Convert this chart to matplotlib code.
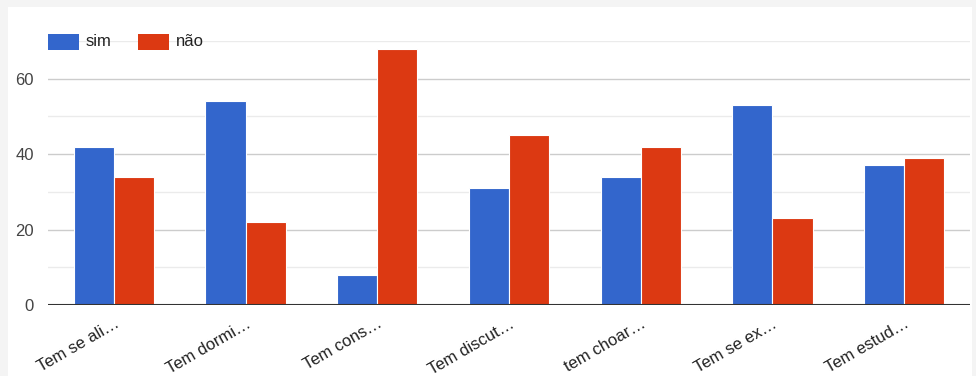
import matplotlib
matplotlib.use("Agg")
from matplotlib import pyplot as plt
from matplotlib.patches import Rectangle
import numpy as np

plt.rcParams["font.family"] = ["Liberation Sans", "DejaVu Sans"]

# answers per question
labels = ["Tem se ali…", "Tem dormi…", "Tem cons…", "Tem discut…",
          "tem choar…", "Tem se ex…", "Tem estud…"]
sim = [42, 54, 8, 31, 34, 53, 37]
nao = [34, 22, 68, 45, 42, 23, 39]
series_names = ["sim", "não"]
colors = ["#3366cc", "#dc3912"]

W, H = 976, 376
fig = plt.figure(figsize=(W / 100, H / 100), dpi=100)
fig.patch.set_facecolor("#f4f4f4")
# white card
fig.patches.append(Rectangle((8 / W, 0), (972 - 8) / W, (H - 7) / H,
                             transform=fig.transFigure, facecolor="white",
                             edgecolor="none", zorder=-1))

ax = fig.add_axes([48 / W, 1 - 305 / H, (970 - 48) / W, (305 - 41) / H])
ax.set_facecolor("none")
ax.set_zorder(1)

x = np.arange(len(labels))
bw = 0.305
ax.bar(x - bw / 2, sim, bw, color=colors[0], edgecolor="white", linewidth=0.8, zorder=3)
ax.bar(x + bw / 2, nao, bw, color=colors[1], edgecolor="white", linewidth=0.8, zorder=3)

ax.set_xlim(-0.5, len(labels) - 0.5)
ax.set_ylim(0, 70)

# gridlines
for v in range(10, 71, 10):
    c = "#cccccc" if v % 20 == 0 else "#ebebeb"
    ax.axhline(v, color=c, linewidth=1, zorder=1)
ax.axhline(0, color="#333333", linewidth=1.5, zorder=4)

for s in ax.spines.values():
    s.set_visible(False)

ax.set_yticks([0, 20, 40, 60])
ax.tick_params(axis="y", length=0, pad=10, labelsize=12, labelcolor="#444444")
ax.set_xticks(x)
ax.set_xticklabels(labels, rotation=30, ha="right", rotation_mode="anchor",
                   fontsize=12, color="#222222")
ax.tick_params(axis="x", length=0, pad=8)

# legend drawn by hand, google-charts style
leg = [(48, "sim"), (138, "não")]
for (lx, name), c in zip(leg, colors):
    fig.patches.append(Rectangle((lx / W, 1 - 50 / H), 31 / W, 16 / H,
                                 transform=fig.transFigure, facecolor=c,
                                 edgecolor="none", zorder=5))
    fig.text((lx + 38) / W, 1 - 42 / H, name, fontsize=12, color="#222222",
             va="center", ha="left", zorder=6)

plt.savefig("out.png", dpi=100)
